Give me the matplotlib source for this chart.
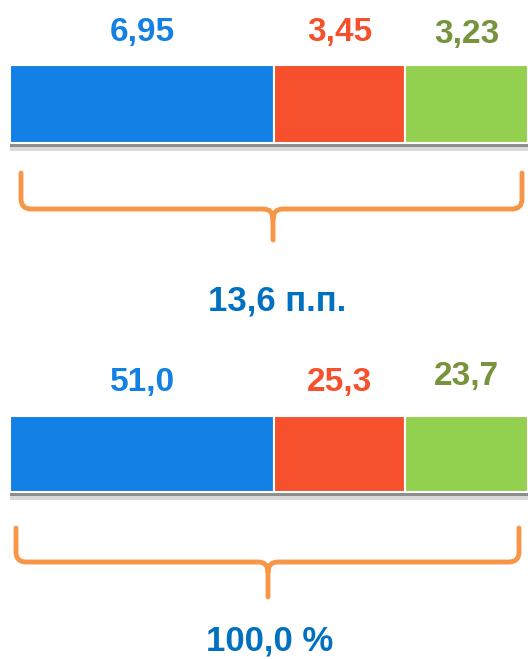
import matplotlib.pyplot as plt
import matplotlib.patheffects as pe
from matplotlib.path import Path
from matplotlib.patches import PathPatch

# data
points = [6.95, 3.45, 3.23]
shares = [51.0, 25.3, 23.7]
point_labels = ["6,95", "3,45", "3,23"]
share_labels = ["51,0", "25,3", "23,7"]
point_total = "13,6 п.п."
share_total = "100,0 %"

bar_colors = ["#1380E6", "#F6502C", "#94D050"]
text_colors = ["#1380E6", "#F6502C", "#77933C"]
total_color = "#0070C0"
brace_color = "#F79646"

LABEL_FONT = ["Liberation Sans Narrow", "Liberation Sans", "DejaVu Sans"]
TOTAL_FONT = ["Liberation Sans", "DejaVu Sans"]

W, H = 528, 659
fig = plt.figure(figsize=(W / 100, H / 100), dpi=100)

# overlay in pixel coords for braces and totals
ov = fig.add_axes([0, 0, 1, 1])
ov.set_xlim(0, W)
ov.set_ylim(H, 0)
ov.axis("off")


def bar_row(vals, labels, top, bottom, label_dy):
    ax = fig.add_axes([10 / W, 1 - bottom / H, (W - 10) / W, (bottom - top) / H])
    ax.set_xlim(0, sum(vals))
    ax.set_ylim(0, 1)
    ax.axis("off")
    left = 0
    for v, lab, c, tc, dy in zip(vals, labels, bar_colors, text_colors, label_dy):
        b = ax.barh(0.5, v, left=left, height=1, color=c, edgecolor="white",
                    linewidth=1.5, clip_on=False)
        b[0].set_path_effects([
            pe.SimplePatchShadow(offset=(0, -6), shadow_rgbFace="#000000", alpha=0.15),
            pe.SimplePatchShadow(offset=(0, -3), shadow_rgbFace="#000000", alpha=0.35),
            pe.Normal(),
        ])
        ax.annotate(lab, xy=(left + v / 2, 1), xytext=(0, dy * 0.72),
                    textcoords="offset points", ha="center", va="center",
                    fontsize=24, fontweight="bold", color=tc, family=LABEL_FONT)
        left += v
    return ax


def brace(x0, x1, xc, ytop, ymid, ytip, r=10):
    verts = [(x0, ytop), (x0, ymid - r), (x0, ymid), (x0 + r, ymid),
             (xc - r, ymid), (xc, ymid), (xc, ymid + r), (xc, ytip),
             (xc, ymid + r), (xc, ymid), (xc + r, ymid),
             (x1 - r, ymid), (x1, ymid), (x1, ymid - r), (x1, ytop)]
    codes = [Path.MOVETO, Path.LINETO, Path.CURVE3, Path.CURVE3,
             Path.LINETO, Path.CURVE3, Path.CURVE3, Path.LINETO,
             Path.MOVETO, Path.CURVE3, Path.CURVE3,
             Path.LINETO, Path.CURVE3, Path.CURVE3, Path.LINETO]
    ov.add_patch(PathPatch(Path(verts, codes), facecolor="none",
                           edgecolor=brace_color, linewidth=3.5,
                           capstyle="round", joinstyle="round"))


bar_row(points, point_labels, 65, 143, [32, 32, 31])
brace(21, 522, 273, 173, 209, 240)
ov.text(277, 301, point_total, ha="center", va="center", fontsize=25,
        fontweight="bold", color=total_color, family=TOTAL_FONT)

bar_row(shares, share_labels, 416, 492, [34, 33, 39])
brace(16, 519, 268, 528, 562, 597)
ov.text(270, 641, share_total, ha="center", va="center", fontsize=25,
        fontweight="bold", color=total_color, family=TOTAL_FONT)

fig.savefig("out.png", dpi=100)
